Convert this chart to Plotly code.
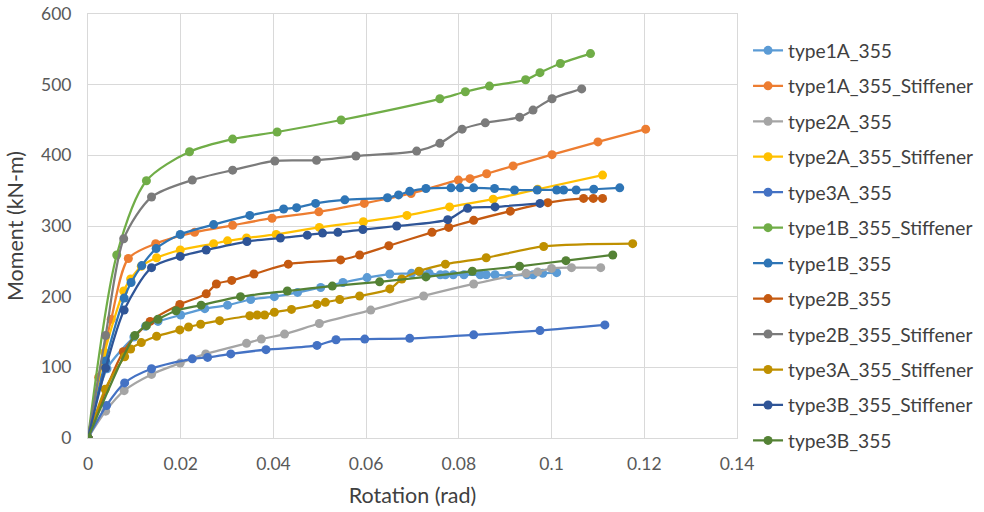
import plotly.graph_objects as go

# ---- data (rotation in rad, moment in kN-m) ----
names = ["type1A_355", "type1A_355_Stiffener", "type2A_355", "type2A_355_Stiffener",
         "type3A_355", "type1B_355_Stiffener", "type1B_355", "type2B_355",
         "type2B_355_Stiffener", "type3A_355_Stiffener", "type3B_355_Stiffener", "type3B_355"]
colors = ["#5B9BD5", "#ED7D31", "#A5A5A5", "#FFC000", "#4472C4", "#70AD47",
          "#2E75B6", "#C55A11", "#7B7B7B", "#BF9000", "#2F5597", "#548235"]

t1A_x = [0, 0.0041, 0.0099, 0.0124, 0.0151, 0.0200, 0.0252, 0.0301, 0.0351, 0.0402, 0.0452, 0.0502,
         0.0550, 0.0602, 0.0651, 0.0698, 0.0716, 0.0736, 0.0760, 0.0771, 0.0788, 0.0811, 0.0846,
         0.0859, 0.0878, 0.0908, 0.0947, 0.0960, 0.0981, 0.1011]
t1A_y = [0, 98, 143, 158, 165, 174, 183, 188, 196, 200, 206, 213, 220, 227, 232, 233, 235, 233,
         231, 231, 231, 231, 231, 231, 231, 230, 231, 231, 233, 234]

t1As_x = [0, 0.0023, 0.0050, 0.0087, 0.0146, 0.0230, 0.0312, 0.0397, 0.0498, 0.0596, 0.0697,
          0.0799, 0.0824, 0.0860, 0.0917, 0.1001, 0.1100, 0.1203]
t1As_y = [0, 86, 168, 254, 275, 291, 301, 311, 320, 332, 346, 365, 367, 374, 385, 401, 419, 437]

t2A_x = [0, 0.0038, 0.0078, 0.0137, 0.0199, 0.0254, 0.0342, 0.0374, 0.0424, 0.0499, 0.0610,
         0.0724, 0.0832, 0.0945, 0.0970, 0.1000, 0.1043, 0.1106]
t2A_y = [0, 38, 67, 90, 106, 119, 134, 140, 147, 162, 181, 201, 218, 233, 235, 240, 241, 241]

t2As_x = [0, 0.0036, 0.0077, 0.0092, 0.0115, 0.0148, 0.0199, 0.0271, 0.0301, 0.0342, 0.0406,
          0.0499, 0.0594, 0.0688, 0.0780, 0.0874, 0.0970, 0.1110]
t2As_y = [0, 121, 208, 225, 243, 255, 266, 275, 279, 283, 288, 298, 306, 315, 327, 338, 352, 372]

t3A_x = [0, 0.0040, 0.0079, 0.0137, 0.0225, 0.0258, 0.0308, 0.0384, 0.0494, 0.0535, 0.0597,
         0.0694, 0.0832, 0.0975, 0.1115]
t3A_y = [0, 46, 78, 98, 112, 114, 119, 125, 131, 139, 140, 141, 146, 152, 160]

t1Bs_x = [0, 0.0062, 0.0126, 0.0219, 0.0312, 0.0408, 0.0546, 0.0759, 0.0814, 0.0866, 0.0944,
          0.0975, 0.1019, 0.1084]
t1Bs_y = [0, 259, 364, 405, 423, 433, 450, 480, 490, 498, 507, 517, 530, 544]

t1B_x = [0, 0.0038, 0.0078, 0.0093, 0.0116, 0.0147, 0.0199, 0.0271, 0.0349, 0.0422, 0.0450,
         0.0491, 0.0554, 0.0646, 0.0670, 0.0694, 0.0729, 0.0783, 0.0803, 0.0832, 0.0877,
         0.0920, 0.0969, 0.1011, 0.1026, 0.1053, 0.1091, 0.1147]
t1B_y = [0, 109, 198, 220, 244, 268, 288, 302, 315, 324, 326, 332, 337, 340, 344, 349, 353,
         354, 354, 354, 353, 351, 351, 351, 351, 351, 352, 354]

t2B_x = [0, 0.0076, 0.0134, 0.0198, 0.0255, 0.0277, 0.0310, 0.0358, 0.0432, 0.0545, 0.0586,
         0.0649, 0.0742, 0.0778, 0.0832, 0.0911, 0.0992, 0.1069, 0.1090, 0.1110]
t2B_y = [0, 122, 165, 189, 204, 218, 223, 232, 246, 252, 259, 272, 291, 298, 308, 321, 333,
         339, 339, 339]

t2Bs_x = [0, 0.0038, 0.0077, 0.0137, 0.0225, 0.0312, 0.0403, 0.0493, 0.0578, 0.0709, 0.0759,
          0.0807, 0.0857, 0.0931, 0.0960, 0.1001, 0.1065]
t2Bs_y = [0, 145, 282, 341, 365, 379, 392, 393, 399, 406, 417, 437, 446, 454, 464, 480, 494]

t3As_x = [0, 0.0037, 0.0079, 0.0092, 0.0115, 0.0148, 0.0198, 0.0217, 0.0243, 0.0284, 0.0349,
          0.0365, 0.0381, 0.0402, 0.0439, 0.0494, 0.0512, 0.0543, 0.0586, 0.0651, 0.0677,
          0.0714, 0.0771, 0.0859, 0.0983, 0.1175]
t3As_y = [0, 69, 115, 126, 135, 144, 153, 157, 161, 166, 173, 174, 174, 178, 182, 189, 192,
          196, 201, 211, 225, 236, 246, 255, 271, 275]

t3Bs_x = [0, 0.0038, 0.0078, 0.0137, 0.0199, 0.0255, 0.0343, 0.0415, 0.0473, 0.0506, 0.0539,
          0.0593, 0.0666, 0.0776, 0.0819, 0.0878, 0.0975]
t3Bs_y = [0, 99, 181, 241, 257, 266, 278, 283, 287, 290, 291, 295, 300, 309, 325, 327, 332]

t3B_x = [0, 0.0101, 0.0126, 0.0151, 0.0190, 0.0244, 0.0329, 0.0430, 0.0527, 0.0629, 0.0729,
         0.0829, 0.0931, 0.1031, 0.1132]
t3B_y = [0, 145, 159, 168, 180, 188, 200, 208, 215, 221, 228, 236, 243, 251, 259]

series_x = [t1A_x, t1As_x, t2A_x, t2As_x, t3A_x, t1Bs_x, t1B_x, t2B_x, t2Bs_x, t3As_x, t3Bs_x, t3B_x]
series_y = [t1A_y, t1As_y, t2A_y, t2As_y, t3A_y, t1Bs_y, t1B_y, t2B_y, t2Bs_y, t3As_y, t3Bs_y, t3B_y]

x_ticks = [0, 0.02, 0.04, 0.06, 0.08, 0.1, 0.12, 0.14]
x_tick_labels = ["0", "0.02", "0.04", "0.06", "0.08", "0.1", "0.12", "0.14"]
y_ticks = [0, 100, 200, 300, 400, 500, 600]

FONT = "Lato"
fig = go.Figure()
for i, (nm, c) in enumerate(zip(names, colors)):
    fig.add_trace(go.Scatter(
        x=series_x[i], y=series_y[i], name=nm, mode="lines+markers",
        line=dict(color=c, width=2.25, shape="spline", smoothing=0.8),
        marker=dict(color=c, size=9, symbol="circle"),
        legendgroup=nm,
    ))

fig.update_layout(
    width=984, height=512,
    paper_bgcolor="white", plot_bgcolor="white",
    margin=dict(l=88, r=247, t=14, b=74, autoexpand=False),
    font=dict(family=FONT, color="#595959", size=17),
    showlegend=True,
    legend=dict(x=1.017, y=0.959, xanchor="left", yanchor="top",
                font=dict(family=FONT, size=19.2, color="#404040"),
                tracegroupgap=7.5, itemwidth=30, bgcolor="rgba(0,0,0,0)",
                maxheight=495),
    xaxis=dict(range=[0, 0.14], tickvals=x_ticks, ticktext=x_tick_labels,
               showgrid=True, gridcolor="#D9D9D9", gridwidth=1, automargin=False,
               zeroline=False, showline=True, linecolor="#D9D9D9", mirror=True,
               ticks="", ticklabelstandoff=10, tickfont=dict(size=17.5, color="#595959"),
               title=dict(text="Rotation (rad)", font=dict(size=21.5, color="#404040"), standoff=14)),
    yaxis=dict(range=[0, 600], tickvals=y_ticks, automargin=False,
               showgrid=True, gridcolor="#D9D9D9", gridwidth=1,
               zeroline=False, showline=True, linecolor="#D9D9D9", mirror=True,
               ticks="", ticklabelstandoff=12, ticklabeloverflow="allow",
               tickfont=dict(size=17.5, color="#595959"),
               title=dict(text="Moment (kN-m)", font=dict(size=21.5, color="#404040"), standoff=11)),
)

# remove the page's default 8px body margin so the 984x512 figure fills the window
fig.write_html("out.html", config={"displayModeBar": False},
               post_script="document.body.style.margin='0';document.body.style.overflow='hidden';")
